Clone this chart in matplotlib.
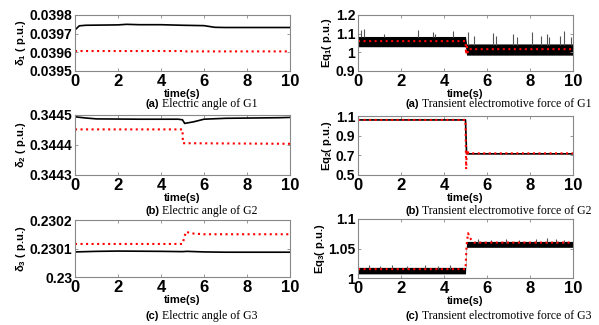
import numpy as np
import matplotlib
matplotlib.use('Agg')
import matplotlib.pyplot as plt

plt.rcParams['font.family'] = ['Liberation Sans', 'DejaVu Sans']
plt.rcParams['mathtext.default'] = 'regular'

W, H = 599, 325

# 功角 δ1
d1_t = [0, 0.2, 0.5, 2, 2.4, 3, 4, 5, 6, 6.5, 7, 10]
d1_black = [0.03972, 0.039742, 0.039745, 0.039747, 0.03975, 0.039748, 0.039748, 0.039745, 0.039743, 0.039734, 0.039733, 0.039733]
d1_rt = [0, 5.0, 5.05, 9.9, 10]
d1_red = [0.039607, 0.039607, 0.039605, 0.039605, 0.039600]

# 功角 δ2
d2_t = [0, 0.5, 1, 3, 4.8, 5.0, 5.1, 5.5, 6, 7, 9.5, 10]
d2_black = [0.344494, 0.34449, 0.344487, 0.344486, 0.344486, 0.344484, 0.344472, 0.344477, 0.344486, 0.344489, 0.344491, 0.344492]
d2_rt = [0, 5.0, 5.02, 10]
d2_red = [0.344452, 0.344452, 0.344406, 0.344404]

# 功角 δ3
d3_t = [0, 1, 2, 4, 5, 5.2, 6, 7, 10]
d3_black = [0.230088, 0.23009, 0.230091, 0.23009, 0.230089, 0.23009, 0.230088, 0.230087, 0.230087]
d3_rt = [0, 5.0, 5.16, 5.4, 6, 10]
d3_red = [0.230116, 0.230116, 0.230159, 0.230153, 0.23015, 0.23015]

# 暂态电势 Eq1（黑色为带状噪声）
eq1_env_t = [0, 5.0, 5.05, 10]
eq1_lo = [1.03, 1.03, 0.985, 0.985]
eq1_hi = [1.085, 1.085, 1.045, 1.045]
eq1_spk_t = [0.14, 0.3, 1.2, 2.8, 3.5, 3.6, 4.4, 5.1, 5.4, 6.3, 6.4, 7.2, 7.4, 8.1, 8.5, 8.8, 8.9, 9.4, 9.6, 9.9]
eq1_spk_lo = [1.08, 1.08, 1.08, 1.08, 1.08, 1.08, 1.08, 1.04, 1.04, 1.04, 1.04, 1.04, 1.04, 1.04, 1.04, 1.04, 1.04, 1.04, 1.04, 1.04]
eq1_spk_v = [1.12, 1.125, 1.1, 1.12, 1.11, 1.1, 1.116, 1.11, 1.09, 1.105, 1.09, 1.10, 1.08, 1.11, 1.09, 1.10, 1.08, 1.09, 1.116, 1.08]
eq1_rt = [0, 5.0, 5.03, 5.06, 5.1, 5.15, 10]
eq1_red = [1.06, 1.06, 0.99, 1.03, 1.0, 1.017, 1.017]

# 暂态电势 Eq2
eq2_t = [0, 5.0, 5.05, 5.1, 10]
eq2_black = [1.06, 1.06, 0.72, 0.715, 0.715]
eq2_rt = [0, 5.0, 5.03, 5.06, 5.09, 5.12, 5.2, 10]
eq2_red = [1.06, 1.06, 0.56, 0.75, 0.70, 0.73, 0.72, 0.72]

# 暂态电势 Eq3
eq3_env_t = [0, 5.0, 5.05, 10]
eq3_lo = [1.007, 1.007, 1.052, 1.052]
eq3_hi = [1.018, 1.018, 1.062, 1.062]
eq3_spk_t = [0.5, 1.0, 1.6, 2.3, 3.1, 3.7, 4.3, 5.6, 6.2, 6.9, 7.5, 8.3, 8.8, 9.2, 9.6]
eq3_spk_lo = [1.016, 1.016, 1.016, 1.016, 1.016, 1.016, 1.016, 1.06, 1.06, 1.06, 1.06, 1.06, 1.06, 1.06, 1.06]
eq3_spk_v = [1.022, 1.021, 1.022, 1.021, 1.022, 1.021, 1.022, 1.066, 1.065, 1.066, 1.065, 1.066, 1.067, 1.066, 1.065]
eq3_rt = [0, 5.0, 5.05, 5.12, 5.2, 5.4, 10]
eq3_red = [1.015, 1.015, 1.055, 1.076, 1.068, 1.06, 1.06]

xticks = [0, 2, 4, 6, 8, 10]


def px_axes(l, t, r, b):
    return fig.add_axes([l / W, 1 - b / H, (r - l) / W, (b - t) / H])


def style(ax, yticks, ylabels, ylabel):
    ax.set_xlim(0, 10)
    ax.set_ylim(yticks[0], yticks[-1])
    ax.set_xticks(xticks)
    ax.set_xticklabels([str(v) for v in xticks], fontsize=12, fontweight='bold')
    ax.set_yticks(yticks)
    ax.set_yticklabels(ylabels, fontsize=10, fontweight='bold')
    ax.tick_params(direction='in', length=2, width=0.6, color='#888888',
                   top=True, right=True, pad=2)
    for s in ax.spines.values():
        s.set_color('#888888')
        s.set_linewidth(0.8)
    ax.set_xlabel('time(s)', fontsize=8, fontweight='bold', labelpad=0)
    ax.set_ylabel(ylabel, fontsize=8, fontweight='bold', labelpad=1)


def caption(x, y, tag, text):
    fig.text(x / W, 1 - y / H, tag, fontsize=8, fontweight='bold', va='center')
    fig.text((x + 17) / W, 1 - y / H, text, fontsize=8.5, va='center',
             family=['Liberation Serif'])


fig = plt.figure(figsize=(W / 100, H / 100), dpi=100)

# 左列
ax = px_axes(75, 15, 290, 71)
ax.plot(d1_t, d1_black, 'k-', lw=1.2)
ax.plot(d1_rt, d1_red, 'r:', lw=1.5)
style(ax, [0.0395, 0.0396, 0.0397, 0.0398], ['0.0395', '0.0396', '0.0397', '0.0398'],
      r'$\delta_{1}$ ( p.u.)')

ax = px_axes(75, 115, 290, 175)
ax.plot(d2_t, d2_black, 'k-', lw=1.2)
ax.plot(d2_rt, d2_red, 'r:', lw=1.5)
style(ax, [0.3443, 0.3444, 0.3445], ['0.3443', '0.3444', '0.3445'],
      r'$\delta_{2}$ ( p.u.)')

ax = px_axes(75, 220, 290, 277)
ax.plot(d3_t, d3_black, 'k-', lw=1.2)
ax.plot(d3_rt, d3_red, 'r:', lw=1.5)
style(ax, [0.23, 0.2301, 0.2302], ['0.23', '0.2301', '0.2302'],
      r'$\delta_{3}$ ( p.u.)')

# 右列
ax = px_axes(358, 15, 573, 71)
ax.fill_between(eq1_env_t, eq1_lo, eq1_hi, color='k', lw=0)
ax.vlines(eq1_spk_t, eq1_spk_lo, eq1_spk_v, color='#555555', lw=0.8)
ax.plot(eq1_rt, eq1_red, 'r:', lw=1.5)
style(ax, [0.9, 1.0, 1.1, 1.2], ['0.9', '1', '1.1', '1.2'], r'Eq$_{1}$( p.u.)')

ax = px_axes(358, 116, 573, 175)
ax.plot(eq2_t, eq2_black, 'k-', lw=1.2)
ax.plot(eq2_rt, eq2_red, 'r:', lw=1.5)
style(ax, [0.5, 0.7, 0.9, 1.1], ['0.5', '0.7', '0.9', '1.1'], r'Eq$_{2}$( p.u.)')

ax = px_axes(358, 219, 573, 278)
ax.fill_between(eq3_env_t, eq3_lo, eq3_hi, color='k', lw=0)
ax.vlines(eq3_spk_t, eq3_spk_lo, eq3_spk_v, color='#555555', lw=0.8)
ax.plot(eq3_rt, eq3_red, 'r:', lw=1.5)
style(ax, [1.0, 1.05, 1.1], ['1', '1.05', '1.1'], r'Eq$_{3}$( p.u.)')

caption(145, 104, '(a)', 'Electric angle of G1')
caption(145, 211, '(b)', 'Electric angle of G2')
caption(145, 316, '(c)', 'Electric angle of G3')
caption(405, 104, '(a)', 'Transient electromotive force of G1')
caption(405, 211, '(b)', 'Transient electromotive force of G2')
caption(405, 316, '(c)', 'Transient electromotive force of G3')

fig.savefig('out.png', dpi=100)
